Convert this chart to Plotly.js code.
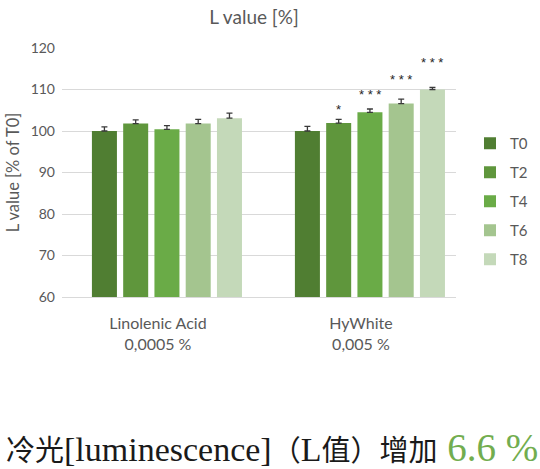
<!DOCTYPE html>
<html>
<head>
<meta charset="utf-8">
<script src="https://cdn.plot.ly/plotly-3.0.1.min.js"></script>
<style>html,body{margin:0;padding:0;background:#fff;}#chart{width:540px;height:469px;}</style>
</head>
<body>
<div id="chart"></div>
<script>
// ---- data ----
const categories = ["Linolenic Acid", "HyWhite"];
const tickLabels = ["Linolenic Acid<br>0,0005 %", "HyWhite<br>0,005 %"];
const seriesNames = ["T0", "T2", "T4", "T6", "T8"];
const values = {
  T0: [100.0, 100.0],
  T2: [101.8, 101.9],
  T4: [100.4, 104.5],
  T6: [101.8, 106.6],
  T8: [103.1, 110.0]
};
const errors = {
  T0: [1.0, 1.1],
  T2: [0.9, 0.9],
  T4: [0.9, 0.8],
  T6: [1.0, 1.1],
  T8: [1.2, 0.5]
};
const significance = {
  T0: ["", ""],
  T2: ["", "*"],
  T4: ["", "***"],
  T6: ["", "***"],
  T8: ["", "***"]
};
const colors = ["#507e32", "#5f963c", "#6aab47", "#a4c58f", "#c4d9b9"];
const yTicks = [60, 70, 80, 90, 100, 110, 120];

// ---- chart ----
const bargap = 0.23;
const n = seriesNames.length;
const traces = seriesNames.map((s, i) => ({
  type: "bar",
  name: s,
  legendgroup: s,
  x: categories,
  y: values[s],
  marker: {color: colors[i]},
  error_y: {type: "data", symmetric: false, array: errors[s], arrayminus: errors[s].map(() => 0),
            color: "#3a3a3a", thickness: 1.3, width: 3},
  hoverinfo: "skip"
}));

const annotations = [];
seriesNames.forEach((s, i) => {
  significance[s].forEach((txt, c) => {
    if (!txt) return;
    const off = (i - (n - 1) / 2) * (1 - bargap) / n;
    annotations.push({
      x: c + off, y: values[s][c] + errors[s][c], xref: "x", yref: "y",
      text: txt.split("").join(" "), showarrow: false, yanchor: "bottom", yshift: (i - 1) * 5,
      font: {family: "Liberation Sans, sans-serif", size: 13, color: "#262626"}
    });
  });
});

annotations.push({
  xref: "paper", yref: "paper", x: -58 / 394, y: -(447 - 297) / 249,
  xanchor: "left", yanchor: "middle", showarrow: false,
  text: '冷光<span style="font-size:34px">[luminescence]</span>（<span style="font-size:34px">L</span>值）增加<span style="font-size:39px;color:#72ad4f"> 6.6 %</span>',
  font: {family: "Liberation Serif, Noto Sans CJK SC, serif", size: 29, color: "#1a1a1a"}
});

const layout = {
  width: 540, height: 469,
  margin: {l: 62, r: 84, t: 48, b: 172, autoexpand: false},
  paper_bgcolor: "#fff", plot_bgcolor: "#fff",
  title: {text: "L value [%]", x: 254 / 540, xanchor: "center", y: 1 - 17 / 469, yanchor: "middle",
          font: {family: "Lato, sans-serif", size: 19, color: "#595959"}},
  barmode: "group", bargap: bargap, bargroupgap: 0.2,
  font: {family: "Lato, sans-serif", color: "#595959"},
  xaxis: {type: "category", range: [-0.517, 1.424], tickvals: categories, ticktext: tickLabels,
          showgrid: false, showline: true, linecolor: "#d9d9d9", linewidth: 1, ticks: "",
          tickfont: {size: 16, color: "#595959"}, ticklabelshift: -9, ticklabelstandoff: 12, fixedrange: true},
  yaxis: {range: [60, 120], tickvals: yTicks, showgrid: true, gridcolor: "#d9d9d9", gridwidth: 1,
          zeroline: false, showline: false, ticks: "", ticklabelstandoff: 6,
          tickfont: {size: 14, color: "#595959"},
          title: {text: "L value [% of T0]", standoff: 6, font: {size: 16.5, color: "#595959"}}, fixedrange: true},
  legend: {x: (470 - 62) / 394, xanchor: "left", y: (297 - 127) / 249, yanchor: "top", tracegroupgap: 6.5,
           font: {size: 15, color: "#595959"}, itemwidth: 30, bgcolor: "rgba(0,0,0,0)"},
  annotations: annotations,
  showlegend: true
};

Plotly.newPlot("chart", traces, layout, {displayModeBar: false, staticPlot: true});
</script>
</body>
</html>
